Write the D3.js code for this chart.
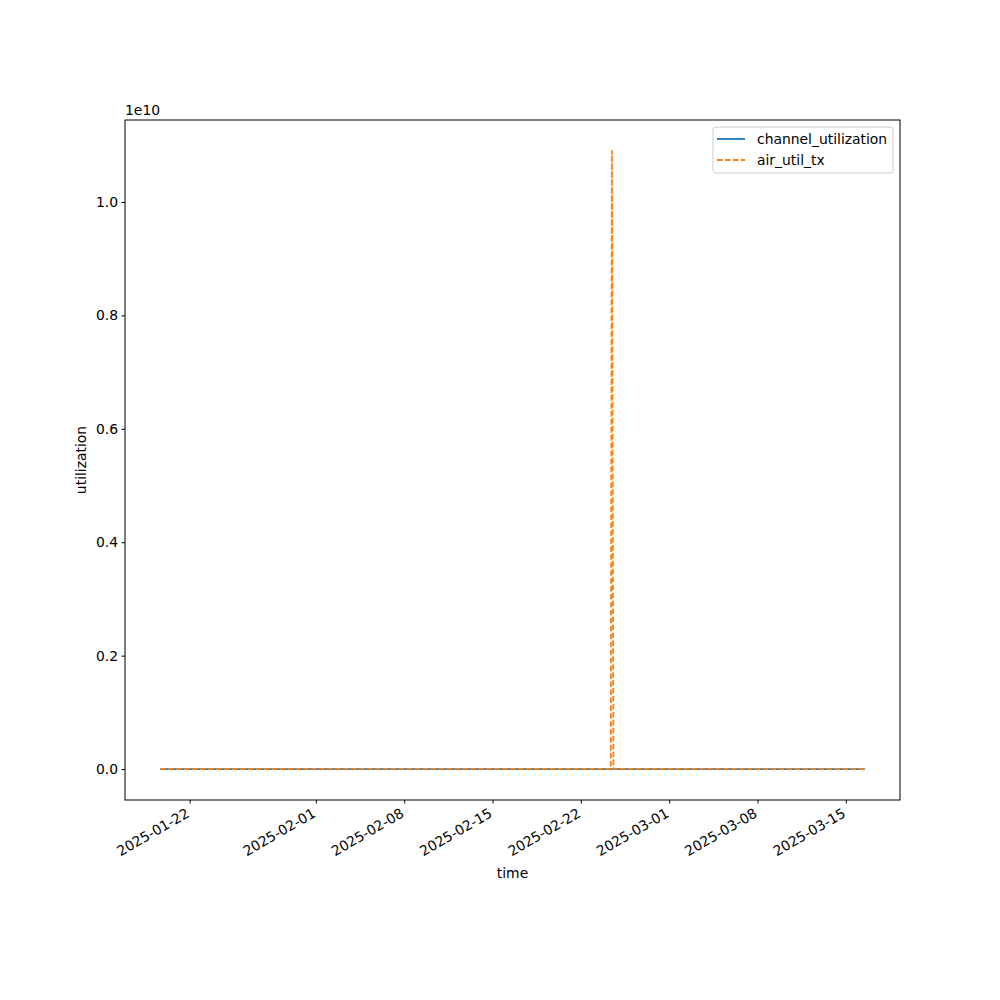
<!DOCTYPE html>
<html><head><meta charset="utf-8">
<script src="https://cdn.jsdelivr.net/npm/d3@7"></script>
<style>
body{margin:0;background:#fff;}
text{font-family:"DejaVu Sans",sans-serif;}
</style></head>
<body><svg id="c" width="1000" height="1000"></svg>
<script>
const seriesNames = ["channel_utilization", "air_util_tx"];
const seriesColors = ["#1f77b4", "#ff7f0e"];
const channelTimes = ["2025-01-19T16:00","2025-01-26T00:00","2025-02-02T00:00","2025-02-09T00:00","2025-02-16T00:00","2025-02-23T00:00","2025-03-02T00:00","2025-03-09T00:00","2025-03-16T12:00"];
const channelValues = [12.3, 10.8, 14.1, 9.7, 11.5, 13.2, 10.4, 12.9, 11.6];
const airTimes = ["2025-01-19T16:00","2025-01-26T00:00","2025-02-02T00:00","2025-02-09T00:00","2025-02-16T00:00","2025-02-23T00:00","2025-02-24T09:00","2025-02-24T11:00","2025-02-24T14:00","2025-03-02T00:00","2025-03-09T00:00","2025-03-16T12:00"];
const airValues = [2.1, 1.8, 2.4, 1.6, 2.0, 2.2, 2.5, 1.09e10, 2.3, 1.9, 2.1, 2.0];
const yTicks = [0, 0.2e10, 0.4e10, 0.6e10, 0.8e10, 1.0e10];
const xTickLabels = ["2025-01-22","2025-02-01","2025-02-08","2025-02-15","2025-02-22","2025-03-01","2025-03-08","2025-03-15"];

const parse = d3.timeParse("%Y-%m-%dT%H:%M");
const parseDay = d3.timeParse("%Y-%m-%d");
const series = [
  channelTimes.map((t,i)=>({t:parse(t), v:channelValues[i]})),
  airTimes.map((t,i)=>({t:parse(t), v:airValues[i]}))
];
const L=125, R=900, T=120, B=800;
const all = series.flat();
const tExt = d3.extent(all, d=>d.t), vExt = d3.extent(all, d=>d.v);
const tPad = (tExt[1]-tExt[0])*0.05, vPad = (vExt[1]-vExt[0])*0.05;
const x = d3.scaleTime().domain([new Date(+tExt[0]-tPad), new Date(+tExt[1]+tPad)]).range([L,R]);
const y = d3.scaleLinear().domain([vExt[0]-vPad, vExt[1]+vPad]).range([B,T]);

const svg = d3.select("#c");
svg.append("rect").attr("width",1000).attr("height",1000).attr("fill","#fff");

const line = d3.line().x(d=>x(d.t)).y(d=>y(d.v));
series.forEach((s,i)=>{
  svg.append("path").datum(s).attr("d",line).attr("fill","none")
    .attr("stroke",seriesColors[i]).attr("stroke-width",1.8)
    .attr("stroke-linejoin","round")
    .attr("stroke-dasharray", i===1 ? "5.55,2.4" : null);
});

// axes frame
svg.append("rect").attr("x",L).attr("y",T).attr("width",R-L).attr("height",B-T)
  .attr("fill","none").attr("stroke","#000").attr("stroke-width",1);

// y axis
const yAxis = d3.axisLeft(y).tickValues(yTicks).tickSize(3.5).tickPadding(3.5)
  .tickFormat(d=>(d/1e10).toFixed(1));
const gy = svg.append("g").attr("transform",`translate(${L},0)`).call(yAxis);
gy.select(".domain").remove();
gy.selectAll("text").attr("font-size",13.9).attr("font-family","DejaVu Sans").attr("fill","#000");
gy.selectAll("line").attr("stroke","#000");

// x axis
const xAxis = d3.axisBottom(x).tickValues(xTickLabels.map(parseDay)).tickSize(3.5)
  .tickFormat(d3.timeFormat("%Y-%m-%d"));
const gx = svg.append("g").attr("transform",`translate(0,${B})`).call(xAxis);
gx.select(".domain").remove();
gx.selectAll("line").attr("stroke","#000");
gx.selectAll("text").attr("font-size",13.9).attr("font-family","DejaVu Sans").attr("fill","#000")
  .attr("text-anchor","end").attr("y",0).attr("dy","0.75em")
  .attr("transform","translate(-5,7) rotate(-30)");

// offset text
svg.append("text").attr("x",L).attr("y",T-5).attr("font-size",13.9).text("1e10");

// axis labels
svg.append("text").attr("x",(L+R)/2).attr("y",878).attr("text-anchor","middle").attr("font-size",13.9).text("time");
svg.append("text").attr("transform",`translate(86,${(T+B)/2}) rotate(-90)`).attr("text-anchor","middle")
  .attr("font-size",13.9).text("utilization");

// legend
const lg = svg.append("g");
lg.append("rect").attr("x",713).attr("y",127).attr("width",180).attr("height",46).attr("rx",3)
  .attr("fill","#fff").attr("fill-opacity",0.8).attr("stroke","#ccc");
seriesNames.forEach((n,i)=>{
  const yy = 139 + i*21;
  lg.append("line").attr("x1",717).attr("x2",745).attr("y1",yy).attr("y2",yy)
    .attr("stroke",seriesColors[i]).attr("stroke-width",1.8)
    .attr("stroke-dasharray", i===1 ? "5.55,2.4" : null);
  lg.append("text").attr("x",757).attr("y",yy+5).attr("font-size",13.9).text(n);
});
</script></body></html>
